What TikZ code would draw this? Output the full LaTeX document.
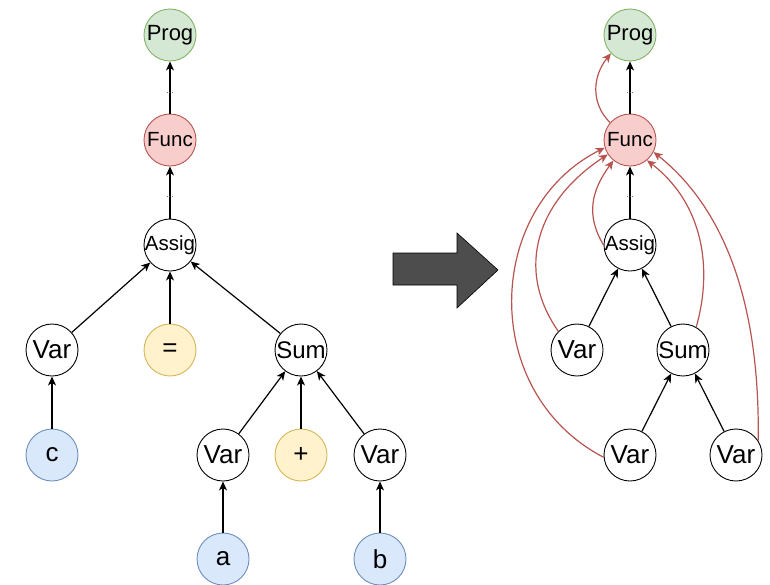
\documentclass[tikz,border=0pt]{standalone}
\usepackage{fontspec}
\setmainfont{Liberation Sans}
\usetikzlibrary{arrows, arrows.meta}
\definecolor{proggreen}{HTML}{D5E8D4}
\definecolor{progline}{HTML}{82B366}
\definecolor{funcred}{HTML}{F8CECC}
\definecolor{funcline}{HTML}{B85450}
\definecolor{leafblue}{HTML}{DAE8FC}
\definecolor{leafline}{HTML}{6C8EBF}
\definecolor{opyellow}{HTML}{FFF2CC}
\definecolor{opline}{HTML}{D6B656}
\definecolor{bigarrow}{HTML}{4D4D4D}
\tikzstyle{ast} = [circle, draw=black, line width=0.9pt, minimum size=52pt, inner sep=0pt, font=\fontsize{26}{26}\selectfont]
\tikzstyle{prog} = [ast, fill=proggreen, draw=progline, font=\fontsize{22}{22}\selectfont]
\tikzstyle{func} = [ast, fill=funcred, draw=funcline, font=\fontsize{20.5}{20.5}\selectfont]
\tikzstyle{assig} = [ast, font=\fontsize{20.5}{20.5}\selectfont]
\tikzstyle{sum} = [ast, font=\fontsize{24}{24}\selectfont]
\tikzstyle{leaf} = [ast, fill=leafblue, draw=leafline]
\tikzstyle{op} = [ast, fill=opyellow, draw=opline]
\tikzstyle{arrow} = [line width=1.2pt, ->, >={Stealth[length=9pt, width=8pt, inset=2.5pt]}]
\tikzstyle{flow} = [arrow, draw=funcline]
\tikzstyle{dots} = [font=\fontsize{9}{9}\selectfont, inner sep=0pt, text=black!70]
\newcommand{\nd}[1]{\makebox[0pt]{#1}}

\begin{document}
\begin{tikzpicture}[x=1pt, y=1pt]
                    \useasboundingbox (0,0) rectangle (770,-584);
                    % left tree
                    \node [prog] (prog) at (170,-35) {\nd{Prog}};
                    \node [func] (func) at (170,-140) {\nd{Func}};
                    \node [assig] (assig) at (170,-245) {\nd{Assig}};
                    \node [ast] (var1) at (52,-350) {\nd{Var}};
                    \node [op] (eq) at (170,-350) {\nd{=}};
                    \node [sum] (sum) at (301,-350) {\nd{Sum}};
                    \node [leaf] (c) at (52,-455) {\nd{c}};
                    \node [ast] (var2) at (223,-455) {\nd{Var}};
                    \node [op] (plus) at (301,-455) {\nd{+}};
                    \node [ast] (var3) at (380,-455) {\nd{Var}};
                    \node [leaf] (a) at (223,-559) {\nd{a}};
                    \node [leaf] (b) at (380,-559) {\nd{b}};
                    \draw [arrow] (func) -- node [dots, pos=0.4] {...} (prog);
                    \draw [arrow] (assig) -- node [dots, pos=0.41] {...} (func);
                    \draw [arrow] (var1) -- (assig);
                    \draw [arrow] (eq) -- (assig);
                    \draw [arrow] (sum) -- (assig);
                    \draw [arrow] (c) -- (var1);
                    \draw [arrow] (var2) -- (sum);
                    \draw [arrow] (plus) -- (sum);
                    \draw [arrow] (var3) -- (sum);
                    \draw [arrow] (a) -- (var2);
                    \draw [arrow] (b) -- (var3);
                    % big arrow
                    \draw [fill=bigarrow, draw=black, line width=0.6pt] (393,-253) -- (457,-253) -- (457,-233) -- (498,-270) -- (457,-308) -- (457,-285) -- (393,-285) -- cycle;
                    % right tree
                    \node [prog] (rprog) at (630,-35) {\nd{Prog}};
                    \node [func] (rfunc) at (630,-140) {\nd{Func}};
                    \node [assig] (rassig) at (630,-245) {\nd{Assig}};
                    \node [ast] (rvar1) at (577,-350) {\nd{Var}};
                    \node [sum] (rsum) at (683,-350) {\nd{Sum}};
                    \node [ast] (rvar2) at (630,-455) {\nd{Var}};
                    \node [ast] (rvar3) at (736,-455) {\nd{Var}};
                    \draw [arrow] (rfunc) -- node [dots, pos=0.4] {...} (rprog);
                    \draw [arrow] (rassig) -- node [dots, pos=0.41] {...} (rfunc);
                    \draw [arrow] (rvar1) -- (rassig);
                    \draw [arrow] (rsum) -- (rassig);
                    \draw [arrow] (rvar2) -- (rsum);
                    \draw [arrow] (rvar3) -- (rsum);
                    % red links to Func
                    \draw [flow] (rfunc.139) .. controls +(-20,20) and +(-18,-22) .. (rprog.224);
                    \draw [flow] (rassig.180) .. controls +(-18,30) and +(-22,-30) .. (rfunc.231);
                    \draw [flow] (rvar1.135) .. controls +(-44,63) and +(-70,-46) .. (rfunc.213);
                    \draw [flow] (rvar2.185) .. controls +(-125,65) and +(-120,-60) .. (rfunc.197);
                    \draw [flow] (rsum.60) .. controls +(16,56) and +(58,-45) .. (rfunc.310);
                    \draw [flow] (rvar3.33) .. controls +(2,141) and +(69,-55) .. (rfunc.333);
                \end{tikzpicture}
\end{document}
